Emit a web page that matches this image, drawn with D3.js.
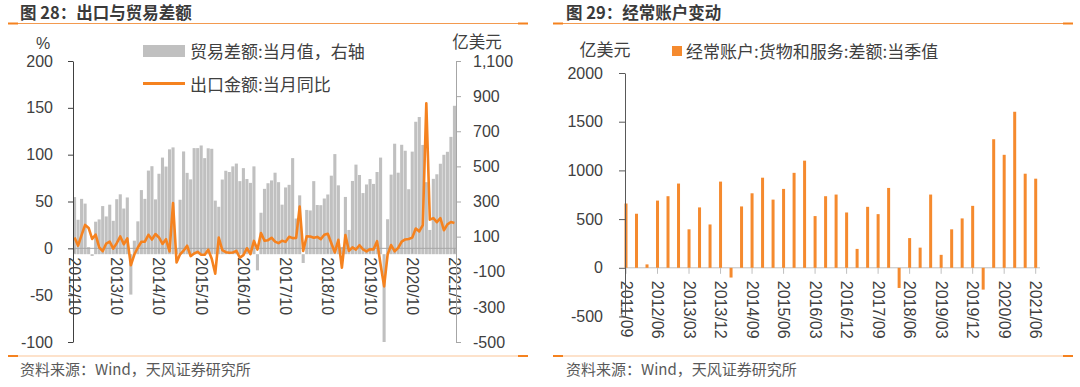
<!DOCTYPE html>
<html lang="zh">
<head>
<meta charset="UTF-8" />
<title>出口与贸易差额 / 经常账户变动</title>
<script src="https://d3js.org/d3.v7.min.js"></script>
<style>
  body { margin: 0; background: #fff; }
  svg { display: block; }
  text { font-family: "Liberation Sans", Arial, "Noto Sans CJK SC", sans-serif; fill: #404040; }
  .cjk { font-family: "Noto Sans CJK SC", sans-serif; }
</style>
</head>
<body>
<svg id="chart" width="1080" height="387"></svg>
<script>
// ---- data: 图28 (monthly, 2012/10 - 2021/10)
// 贸易差额:当月值 (亿美元, right axis)
var tradeBalance = [
  325, 196, 315,                                              // 2012/10-12
  288, 40, -10, 185, 198, 274, 215, 282, 190, 313, 341, 260,  // 2013
  323, -230, 77, 187, 365, 315, 476, 501, 312, 458, 550, 499, // 2014
  597, 608, 31, 310, 585, 463, 426, 604, 604, 619, 547, 603,  // 2015
  600, 305, 270, 425, 475, 468, 500, 516, 416, 490, 428, 406, // 2016
  500, -92, 236, 372, 404, 420, 464, 410, 282, 380, 395, 547, // 2017
  203, 335, -50, 252, 249, 416, 280, 279, 317, 340, 447, 570, // 2018
  392, 41, 326, 138, 417, 510, 451, 348, 397, 428, 400, 468,  // 2019
  550, -500, 199, 453, 629, 464, 623, 589, 370, 584, 754, 781, // 2020
  622, 410, 138, 429, 455, 515, 566, 583, 668, 845            // 2021/01-10
];
// 出口金额:当月同比 (%, left axis)
var exportYoy = [
  11.6, 2.9, 14.1,
  25.0, 21.8, 10.0, 14.7, 1.0, -3.1, 5.1, 7.2, -0.3, 5.6, 12.7, 4.3,
  10.6, -18.1, -6.6, 0.9, 7.0, 7.2, 14.5, 9.4, 15.3, 11.6, 4.7, 9.7,
  -3.3, 48.3, -15.0, -6.4, -2.5, 2.8, -8.3, -5.5, -3.7, -6.9, -6.8, -1.4,
  -11.2, -27.0, 11.5, -1.8, -4.1, -4.8, -4.4, -2.8, -10.0, -7.3, 0.1, -6.1,
  7.9, -1.3, 16.4, 8.0, 8.7, 11.3, 7.2, 5.5, 8.1, 6.9, 12.3, 10.9,
  11.1, 44.5, -2.7, 12.9, 12.6, 11.3, 12.2, 9.8, 14.5, 15.6, 5.4, -4.4,
  9.1, -20.7, 14.2, -2.7, 1.1, -1.3, 3.3, -1.0, -3.2, -0.9, -1.1, 7.6,
  -17.2, -40.6, -6.6, 3.5, -3.3, 0.5, 7.2, 9.5, 9.9, 11.4, 21.1, 18.1,
  24.7, 154.9, 30.6, 32.3, 27.9, 32.2, 19.3, 25.6, 28.1, 27.1
];
var leftTickLabels = ["2012/10", "2013/10", "2014/10", "2015/10", "2016/10",
  "2017/10", "2018/10", "2019/10", "2020/10", "2021/10"];
var pctTicks = [-100, -50, 0, 50, 100, 150, 200];
var balTicks = [-500, -300, -100, 100, 300, 500, 700, 900, 1100];

// ---- data: 图29 (quarterly, 2011/09 - 2021/06)
// 经常账户:货物和服务:差额:当季值 (亿美元)
var currentAccount = [
  660, 555,                 // 2011 Q3-Q4
  35, 690, 735, 865,        // 2012
  395, 620, 445, 885,       // 2013
  -100, 630, 765, 925,      // 2014
  700, 810, 975, 1100,      // 2015
  531, 735, 752, 568,       // 2016
  194, 626, 551, 820,       // 2017
  -207, 305, 207, 752,      // 2018
  133, 395, 507, 636,       // 2019
  -224, 1320, 1160, 1602,   // 2020
  966, 915                  // 2021 Q1-Q2
];
var rightTickLabels = ["2011/09", "2012/06", "2013/03", "2013/12", "2014/09",
  "2015/06", "2016/03", "2016/12", "2017/09", "2018/06", "2019/03", "2019/12",
  "2020/09", "2021/06"];
var caTicks = [-500, 0, 500, 1000, 1500, 2000];

// category labels yyyy/mm
function periodLabels(year, month, count, step) {
  var out = [];
  for (var i = 0; i < count; i++) {
    var k = month - 1 + i * step;
    var yy = year + Math.floor(k / 12), mm = (k % 12) + 1;
    out.push(yy + "/" + (mm < 10 ? "0" : "") + mm);
  }
  return out;
}
var months = periodLabels(2012, 10, tradeBalance.length, 1);
var quarters = periodLabels(2011, 9, currentAccount.length, 3);

var ORANGE = "#f5821f";
var svg = d3.select("#chart");
var fmtMinus = function (s) { return String(s).replace("\u2212", "-"); };

// ---------- frame: titles, rules, footers
function frame(x0, x1, tx, title, footX1) {
  svg.append("text").attr("class", "cjk").attr("x", tx).attr("y", 12)
    .attr("dominant-baseline", "central").style("font-size", "16.5px")
    .style("font-weight", "bold").style("fill", "#3a3a3a").text(title);
  svg.append("line").attr("x1", x0).attr("x2", x1).attr("y1", 23.5).attr("y2", 23.5)
    .attr("stroke", "#f39a4f").attr("stroke-width", 1.2);
  svg.append("line").attr("x1", x0).attr("x2", footX1).attr("y1", 356).attr("y2", 356)
    .attr("stroke", "#fbc597").attr("stroke-width", 1.2);
  [[x0, 23.5], [x1 - 10, 23.5], [x0, 356], [footX1 - 10, 356]].forEach(function (p) {
    svg.append("line").attr("x1", p[0]).attr("x2", p[0] + 10).attr("y1", p[1]).attr("y2", p[1])
      .attr("stroke", ORANGE).attr("stroke-width", 2);
  });
  svg.append("text").attr("class", "cjk").attr("x", tx).attr("y", 368)
    .attr("dominant-baseline", "central").style("font-size", "15px")
    .style("fill", "#595959").text("资料来源：Wind，天风证券研究所");
}
frame(8, 528, 20, "图 28：出口与贸易差额", 528);
frame(553, 1073, 566, "图 29：经常账户变动", 1073);

// ---------- 图28
var xL = d3.scaleBand().domain(months).range([73, 456]).paddingInner(0.12);
var yPct = d3.scaleLinear().domain([-100, 200]).range([342, 61]);
var yBal = d3.scaleLinear().domain([-500, 1100]).range([342, 61]);
var gL = svg.append("g");

gL.selectAll("rect.bal").data(tradeBalance).enter().append("rect")
  .attr("class", "bal")
  .attr("x", function (d, i) { return xL(months[i]); })
  .attr("width", xL.bandwidth())
  .attr("y", function (d) { return Math.min(yBal(d), yBal(0)); })
  .attr("height", function (d) { return Math.abs(yBal(d) - yBal(0)); })
  .attr("fill", "#c0c0c0");

// x axis on left zero
gL.append("line").attr("x1", 73).attr("x2", 456)
  .attr("y1", yPct(0)).attr("y2", yPct(0)).attr("stroke", "#a6a6a6").attr("stroke-width", 1);
leftTickLabels.forEach(function (lab) {
  var x = xL(lab) + xL.bandwidth() / 2;
  gL.append("line").attr("x1", x).attr("x2", x).attr("y1", yPct(0)).attr("y2", yPct(0) + 5)
    .attr("stroke", "#a6a6a6");
  gL.append("text").attr("transform", "translate(" + x + "," + (yPct(0) + 9) + ") rotate(90)")
    .attr("dominant-baseline", "central").style("font-size", "16px").text(lab);
});

var line = d3.line()
  .x(function (d, i) { return xL(months[i]) + xL.bandwidth() / 2; })
  .y(function (d) { return yPct(d); });
gL.append("path").datum(exportYoy).attr("d", line).attr("fill", "none")
  .attr("stroke", ORANGE).attr("stroke-width", 2.6).attr("stroke-linejoin", "round");

var axL = gL.append("g").attr("transform", "translate(73,0)")
  .call(d3.axisLeft(yPct).tickValues(pctTicks).tickSize(5).tickSizeOuter(0)
    .tickPadding(15).tickFormat(function (d) { return fmtMinus(d); }));
axL.select(".domain").attr("stroke", "#404040");
axL.selectAll(".tick line").attr("stroke", "#404040");
axL.selectAll("text").style("font-size", "16px").style("fill", "#404040")
  .style("font-family", "'Liberation Sans', Arial, sans-serif");

var axR = gL.append("g").attr("transform", "translate(456,0)")
  .call(d3.axisRight(yBal).tickValues(balTicks).tickSize(5).tickSizeOuter(0)
    .tickPadding(12).tickFormat(function (d) { return fmtMinus(d3.format(",")(d)); }));
axR.select(".domain").attr("stroke", "#a6a6a6");
axR.selectAll(".tick line").attr("stroke", "#a6a6a6");
axR.selectAll("text").style("font-size", "16px").style("fill", "#404040")
  .style("font-family", "'Liberation Sans', Arial, sans-serif");

// units and legend
svg.append("text").attr("x", 43).attr("y", 43).attr("text-anchor", "middle")
  .attr("dominant-baseline", "central").style("font-size", "16px").text("%");
svg.append("text").attr("class", "cjk").attr("x", 477).attr("y", 41).attr("text-anchor", "middle")
  .attr("dominant-baseline", "central").style("font-size", "16.5px").text("亿美元");
svg.append("rect").attr("x", 143).attr("y", 45).attr("width", 42).attr("height", 12).attr("fill", "#c0c0c0");
svg.append("text").attr("class", "cjk").attr("x", 190).attr("y", 50.5)
  .attr("dominant-baseline", "central").style("font-size", "17px").text("贸易差额:当月值，右轴");
svg.append("line").attr("x1", 143).attr("x2", 185).attr("y1", 83.5).attr("y2", 83.5)
  .attr("stroke", ORANGE).attr("stroke-width", 3);
svg.append("text").attr("class", "cjk").attr("x", 190).attr("y", 83.5)
  .attr("dominant-baseline", "central").style("font-size", "17px").text("出口金额:当月同比");

// ---------- 图29
var xR = d3.scalePoint().domain(quarters).range([626, 1035.7]);
var yR = d3.scaleLinear().domain([-500, 2000]).range([316.5, 73]);
var gR = svg.append("g");

gR.append("line").attr("x1", 625).attr("x2", 1040).attr("y1", yR(0)).attr("y2", yR(0))
  .attr("stroke", "#bfbfbf");
rightTickLabels.forEach(function (lab) {
  var x = xR(lab);
  gR.append("line").attr("x1", x).attr("x2", x).attr("y1", yR(0)).attr("y2", yR(0) + 6)
    .attr("stroke", "#bfbfbf");
  gR.append("text").attr("transform", "translate(" + x + "," + (yR(0) + 13) + ") rotate(90)")
    .attr("dominant-baseline", "central").style("font-size", "16px").text(lab);
});

gR.selectAll("rect.ca").data(currentAccount).enter().append("rect")
  .attr("class", "ca")
  .attr("x", function (d, i) { return xR(quarters[i]) - 1.5; })
  .attr("width", 3)
  .attr("y", function (d) { return Math.min(yR(d), yR(0)); })
  .attr("height", function (d) { return Math.abs(yR(d) - yR(0)); })
  .attr("fill", "#f58a2e");

var axCA = gR.append("g").attr("transform", "translate(625,0)")
  .call(d3.axisLeft(yR).tickValues(caTicks).tickSize(6).tickSizeOuter(0)
    .tickPadding(16).tickFormat(function (d) { return fmtMinus(d); }));
axCA.select(".domain").attr("stroke", "#595959");
axCA.selectAll(".tick line").attr("stroke", "#595959");
axCA.selectAll("text").style("font-size", "16px").style("fill", "#404040")
  .style("font-family", "'Liberation Sans', Arial, sans-serif");

svg.append("text").attr("class", "cjk").attr("x", 605).attr("y", 48).attr("text-anchor", "middle")
  .attr("dominant-baseline", "central").style("font-size", "17px").text("亿美元");
svg.append("rect").attr("x", 672).attr("y", 46).attr("width", 10).attr("height", 10).attr("fill", "#f58a2e");
svg.append("text").attr("class", "cjk").attr("x", 686).attr("y", 50)
  .attr("dominant-baseline", "central").style("font-size", "17px").text("经常账户:货物和服务:差额:当季值");
</script>
</body>
</html>
